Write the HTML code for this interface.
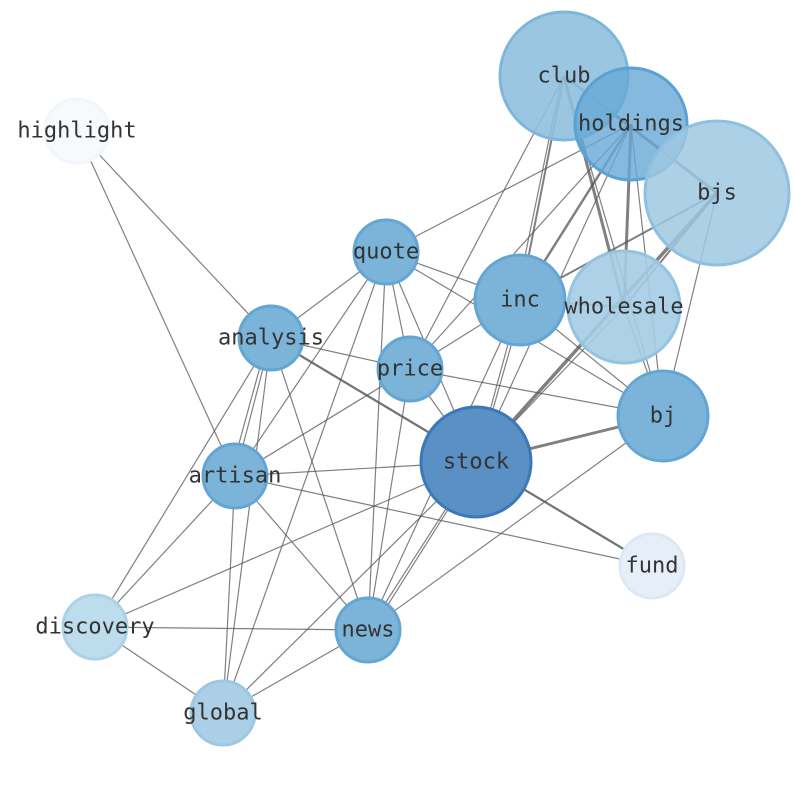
<!DOCTYPE html>
<html><head><meta charset="utf-8"><style>html,body{margin:0;padding:0;background:#fff}svg{display:block}</style></head>
<body>
<svg width="794" height="790" viewBox="0 0 794 790" xmlns="http://www.w3.org/2000/svg">
<g stroke="#555" stroke-opacity="0.75" stroke-width="1.2" fill="none">
<line x1="77" y1="131" x2="271" y2="338"/>
<line x1="77" y1="131" x2="235" y2="476"/>
<line x1="271" y1="338" x2="652" y2="566" stroke-width="2.2" stroke="#444"/>
<line x1="271" y1="338" x2="386" y2="252"/>
<line x1="271" y1="338" x2="410" y2="369"/>
<line x1="271" y1="338" x2="235" y2="476"/>
<line x1="268" y1="338" x2="230" y2="476"/>
<line x1="271" y1="338" x2="95" y2="627"/>
<line x1="271" y1="338" x2="223" y2="713"/>
<line x1="271" y1="338" x2="368" y2="630"/>
<line x1="386" y1="252" x2="631" y2="124"/>
<line x1="386" y1="252" x2="520" y2="300"/>
<line x1="386" y1="252" x2="663" y2="416"/>
<line x1="386" y1="252" x2="410" y2="369"/>
<line x1="386" y1="252" x2="476" y2="462"/>
<line x1="386" y1="252" x2="368" y2="630"/>
<line x1="386" y1="252" x2="223" y2="713"/>
<line x1="386" y1="252" x2="235" y2="476"/>
<line x1="410" y1="369" x2="564" y2="76"/>
<line x1="410" y1="369" x2="631" y2="124"/>
<line x1="410" y1="369" x2="520" y2="300"/>
<line x1="410" y1="369" x2="235" y2="476"/>
<line x1="410" y1="369" x2="368" y2="630"/>
<line x1="410" y1="369" x2="476" y2="462"/>
<line x1="410" y1="369" x2="663" y2="416"/>
<line x1="520" y1="300" x2="564" y2="76" stroke-width="2"/>
<line x1="516" y1="300" x2="562" y2="76"/>
<line x1="520" y1="300" x2="631" y2="124" stroke-width="2.5"/>
<line x1="520" y1="300" x2="717" y2="193" stroke-width="2"/>
<line x1="520" y1="300" x2="624" y2="307" stroke-width="2"/>
<line x1="520" y1="300" x2="476" y2="462"/>
<line x1="524" y1="300" x2="478" y2="462"/>
<line x1="520" y1="300" x2="368" y2="630"/>
<line x1="520" y1="300" x2="663" y2="416"/>
<line x1="564" y1="76" x2="717" y2="193" stroke-width="3"/>
<line x1="564" y1="76" x2="624" y2="307" stroke-width="3"/>
<line x1="564" y1="76" x2="663" y2="416"/>
<line x1="631" y1="124" x2="624" y2="307" stroke-width="3"/>
<line x1="631" y1="124" x2="663" y2="416"/>
<line x1="631" y1="124" x2="476" y2="462"/>
<line x1="717" y1="193" x2="476" y2="462" stroke-width="3.5"/>
<line x1="717" y1="193" x2="624" y2="307" stroke-width="2"/>
<line x1="717" y1="193" x2="663" y2="416"/>
<line x1="624" y1="307" x2="663" y2="416"/>
<line x1="624" y1="307" x2="476" y2="462"/>
<line x1="476" y1="462" x2="663" y2="416" stroke-width="3"/>
<line x1="476" y1="462" x2="235" y2="476"/>
<line x1="476" y1="462" x2="95" y2="627"/>
<line x1="476" y1="462" x2="368" y2="630"/>
<line x1="478" y1="462" x2="372" y2="630"/>
<line x1="476" y1="462" x2="223" y2="713"/>
<line x1="663" y1="416" x2="368" y2="630"/>
<line x1="235" y1="476" x2="652" y2="566"/>
<line x1="235" y1="476" x2="368" y2="630"/>
<line x1="235" y1="476" x2="223" y2="713"/>
<line x1="235" y1="476" x2="95" y2="627"/>
<line x1="95" y1="627" x2="368" y2="630"/>
<line x1="95" y1="627" x2="223" y2="713"/>
<line x1="223" y1="713" x2="368" y2="630"/>
</g>
<g stroke-width="3">
<circle cx="564" cy="76" r="64" fill="#8fc0df" fill-opacity="0.9" stroke="#7db7dc"/>
<circle cx="631" cy="124" r="56" fill="#67a9d6" fill-opacity="0.8" stroke="#5aa2d2"/>
<circle cx="717" cy="193" r="72" fill="#9dc8e2" fill-opacity="0.85" stroke="#8fc0df"/>
<circle cx="77" cy="131" r="32" fill="#f7fafd" stroke="#f1f6fc"/>
<circle cx="386" cy="252" r="32" fill="#7cb4d9" stroke="#63a6d3"/>
<circle cx="520" cy="300" r="45" fill="#7cb4d9" stroke="#63a6d3"/>
<circle cx="624" cy="307" r="56" fill="#a4cce4" fill-opacity="0.9" stroke="#94c4e1"/>
<circle cx="271" cy="338" r="32" fill="#7cb4d9" stroke="#63a6d3"/>
<circle cx="410" cy="369" r="32" fill="#7cb4d9" stroke="#63a6d3"/>
<circle cx="663" cy="416" r="45" fill="#7cb4d9" stroke="#63a6d3"/>
<circle cx="476" cy="462" r="55" fill="#5b90c4" stroke="#3a78b8"/>
<circle cx="235" cy="476" r="32" fill="#7cb4d9" stroke="#63a6d3"/>
<circle cx="652" cy="566" r="32" fill="#e6eff8" stroke="#dce9f5"/>
<circle cx="95" cy="627" r="32" fill="#bddcec" stroke="#acd2e8"/>
<circle cx="368" cy="630" r="32" fill="#7cb4d9" stroke="#63a6d3"/>
<circle cx="223" cy="713" r="32" fill="#aacfe6" stroke="#9cc8e2"/>
</g>
<g font-family="'DejaVu Sans Mono','Liberation Mono',monospace" font-size="22" fill="#333" text-anchor="middle" dominant-baseline="central">
<text x="564" y="76">club</text>
<text x="631" y="124">holdings</text>
<text x="717" y="193">bjs</text>
<text x="77" y="131">highlight</text>
<text x="386" y="252">quote</text>
<text x="520" y="300">inc</text>
<text x="624" y="307">wholesale</text>
<text x="271" y="338">analysis</text>
<text x="410" y="369">price</text>
<text x="663" y="416">bj</text>
<text x="476" y="462">stock</text>
<text x="235" y="476">artisan</text>
<text x="652" y="566">fund</text>
<text x="95" y="627">discovery</text>
<text x="368" y="630">news</text>
<text x="223" y="713">global</text>
</g>
</svg>
</body></html>
